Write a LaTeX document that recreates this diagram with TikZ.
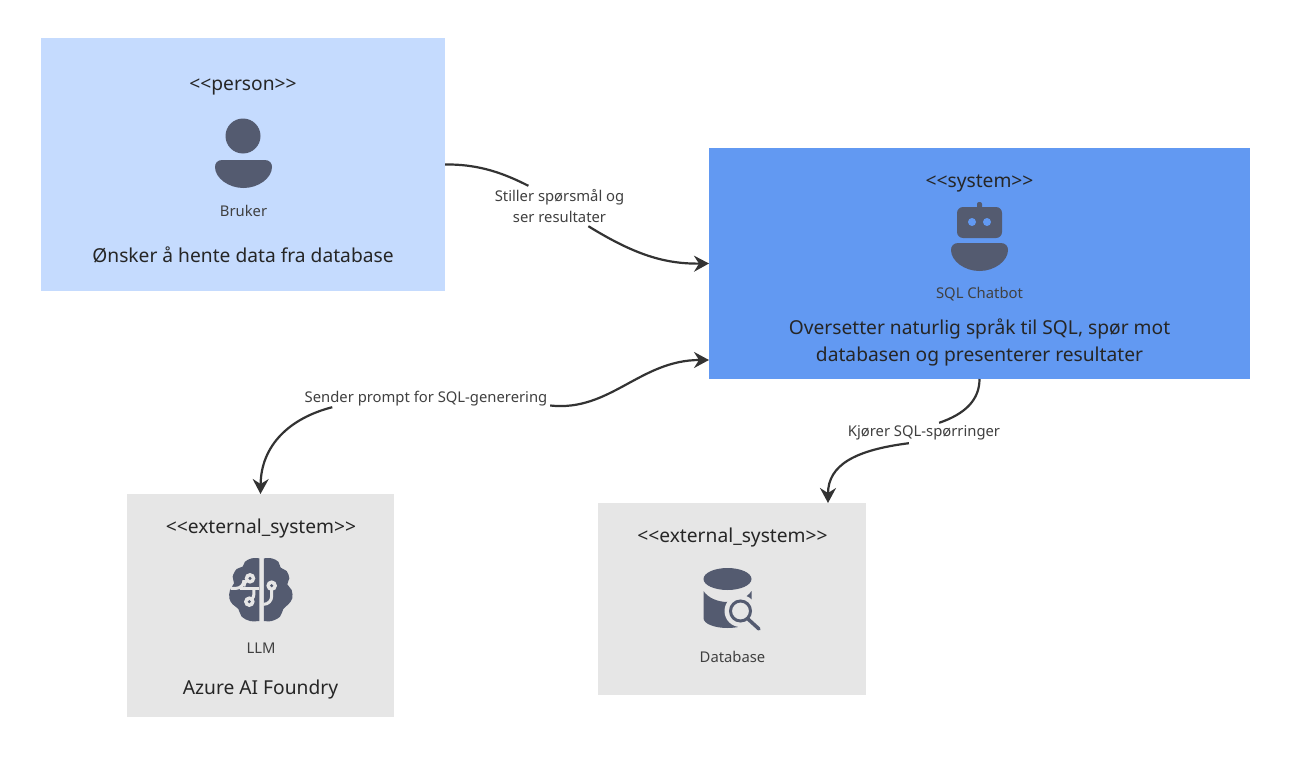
\documentclass[tikz,border=0pt]{standalone}
\usepackage{fontspec}
\setmainfont{Noto Sans}
\usepackage{xcolor}
\usetikzlibrary{calc, arrows.meta}

\definecolor{personblue}{HTML}{C5DBFE}
\definecolor{systemblue}{HTML}{6299F2}
\definecolor{extgray}{HTML}{E6E6E6}
\definecolor{iconfill}{HTML}{545B70}
\definecolor{linkgray}{HTML}{333333}

\tikzset{
	box/.style={inner sep=0, outer sep=0},
	bigtext/.style={inner sep=0, align=center, text=black!85, font=\fontsize{19.2}{27}\selectfont},
	smalltext/.style={inner sep=0, align=center, text=black!75, font=\fontsize{14.8}{21}\selectfont},
	linktext/.style={inner sep=0, align=center, text=black!75, font=\fontsize{14.8}{21}\selectfont},
	link/.style={draw=linkgray, line width=2.2pt},
	linkhead/.style={link, -{Stealth[length=15pt, width=16pt, inset=5pt]}},
}

\begin{document}
\begin{tikzpicture}[x=1pt, y=-1pt]
	\useasboundingbox[fill=white] (0,0) rectangle (1300,768);

	% boxes
	\node[box, fill=personblue, minimum width=404pt, minimum height=253pt] (bruker) at (243,164.5) {};
	\node[box, fill=systemblue, minimum width=541pt, minimum height=231pt] (chatbot) at (979.5,263.5) {};
	\node[box, fill=extgray, minimum width=267pt, minimum height=223pt] (llm) at (260.5,605.5) {};
	\node[box, fill=extgray, minimum width=268pt, minimum height=192pt] (database) at (732,599) {};

	% person and robot
	\fill[iconfill] (243,136) circle (17.5);
	\foreach \bodypos in {(243.5,160), (979.5,243)} {
		\fill[iconfill, shift={\bodypos}] (-21,0) -- (21,0) .. controls (26,0) and (28.5,3) .. (28.5,7) .. controls (28.5,18) and (15,28) .. (0,28) .. controls (-15,28) and (-28.5,18) .. (-28.5,7) .. controls (-28.5,3) and (-26,0) .. (-21,0) -- cycle;
	}
	\fill[iconfill, rounded corners=6pt] (957,207) rectangle (1002,238);
	\fill[iconfill, rounded corners=2pt] (977,202) rectangle (982,210);
	\foreach \x in {972,987} {
		\fill[systemblue] (\x,222) circle (4);
	}

	% brain
	\begin{scope}[shift={(210,545)}, x=0.3333pt, y=-0.3333pt]
		\fill[iconfill] plot[smooth, tension=0.6] coordinates {(148,40) (125,40) (105,50) (98,65) (80,72) (68,95) (72,115) (60,135) (58,160) (68,178) (85,192) (95,215) (120,228) (148,228)} -- cycle;
		\fill[iconfill] plot[smooth, tension=0.6] coordinates {(162,40) (185,40) (205,50) (212,68) (230,78) (238,100) (232,118) (245,135) (247,160) (235,178) (220,192) (210,215) (185,228) (162,228)} -- cycle;
		\draw[extgray, line width=3pt, rounded corners=8pt] (62,130) -- (102,130) -- (102,100) -- (120,100);
		\draw[extgray, line width=3pt, rounded corners=8pt] (90,130) -- (148,130);
		\draw[extgray, line width=3pt, rounded corners=8pt] (132,130) -- (132,170) -- (118,170);
		\draw[extgray, line width=3pt, rounded corners=8pt] (185,122) -- (185,178) -- (160,178);
		\foreach \dotpos in {(120,100), (118,170), (185,122)} {
			\fill[extgray] \dotpos circle (16);
			\fill[iconfill] \dotpos circle (5);
		}
	\end{scope}

	% database
	\fill[iconfill] (703.5,591) .. controls (708,598) and (718,602) .. (727.5,602) .. controls (737,602) and (747,598) .. (751.5,591) -- (751.5,618) .. controls (751.5,624) and (740,628) .. (727.5,628) .. controls (715,628) and (703.5,624) .. (703.5,618) -- cycle;
	\fill[iconfill] (727.5,579) ellipse (24 and 11);
	\fill[extgray] (740.5,611) circle (16);
	\draw[iconfill, line width=3pt] (740.5,611) circle (10);
	\draw[iconfill, line width=3.5pt, line cap=round] (748,619) -- (759,629);

	% texts
	\node[bigtext] (brukertype) at (243,87) {<{}<person>{}>};
	\node[smalltext] (brukername) at (243.5,211) {Bruker};
	\node[bigtext] (brukerdesc) at (243,255) {Ønsker å hente data fra database};
	\node[bigtext] (chatbottype) at (979.5,183) {<{}<system>{}>};
	\node[smalltext] (chatbotname) at (979.5,294) {SQL Chatbot};
	\node[bigtext] (chatbotdesc) at (979.5,342.5) {Oversetter naturlig språk til SQL, spør mot\\databasen og presenterer resultater};
	\node[bigtext] (llmtype) at (261,529) {<{}<external\_system>{}>};
	\node[smalltext] (llmname) at (261,648) {LLM};
	\node[bigtext] (llmdesc) at (260.5,689) {Azure AI Foundry};
	\node[bigtext] (databasetype) at (732.5,538) {<{}<external\_system>{}>};
	\node[smalltext] (databasename) at (732.5,657) {Database};

	% connectors
	\node[linktext, minimum width=130pt, minimum height=40pt] (stiller) at (559.5,206) {Stiller spørsmål og\\ser resultater};
	\node[linktext, minimum width=248pt, minimum height=16pt] (sender) at (426,399) {Sender prompt for SQL-generering};
	\node[linktext, minimum width=154pt, minimum height=20pt] (kjorer) at (924,433) {Kjører SQL-spørringer};
	\coordinate (chatbotin) at (709,360);
	\coordinate (databasein) at (828,503);

	\draw[link] (bruker.east) .. controls (480,164) and (505,174) .. (stiller.147.6);
	\draw[linkhead] (stiller.-35) .. controls (635,255) and (665,264) .. (chatbot.west);
	\draw[linkhead] (sender.-175.2) .. controls (290,418) and (261,445) .. (llm.north);
	\draw[linkhead] (sender.-3.2) .. controls (610,412) and (640,360) .. (chatbotin);
	\draw[link] (chatbot.south) .. controls (979.5,400) and (965,414) .. (kjorer.34);
	\draw[linkhead] (kjorer.-146) .. controls (855,450) and (828,465) .. (databasein);
\end{tikzpicture}
\end{document}
